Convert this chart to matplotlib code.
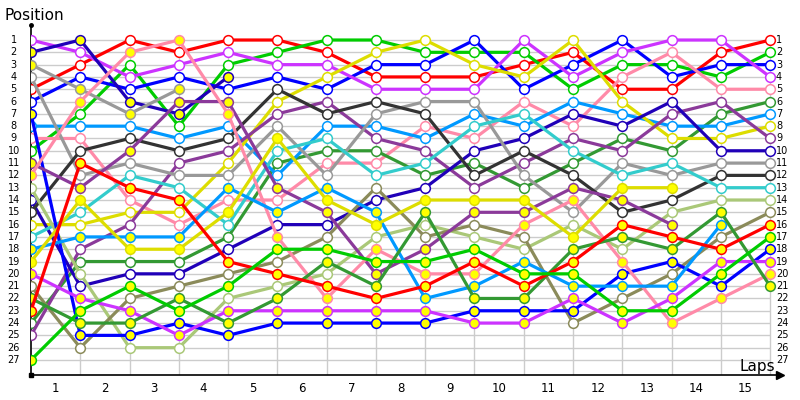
"""Grafico de vueltas: posicion de cada piloto en la salida y en cada vuelta."""

import matplotlib

matplotlib.use("Agg")
import matplotlib.pyplot as plt

LAP_LABELS = [str(i) for i in range(1, 16)]
POSITIONS = list(range(1, 28))

# columna 0 = salida, columnas 1..15 = final de cada vuelta
# pilotos con marcador hueco
red = [5, 3, 1, 2, 1, 1, 2, 4, 4, 4, 3, 2, 5, 5, 2, 1]
green = [10, 7, 3, 8, 3, 2, 1, 1, 2, 2, 2, 5, 3, 3, 4, 2]
blue = [6, 4, 5, 4, 5, 4, 5, 3, 3, 1, 5, 3, 1, 4, 3, 3]
violet = [1, 2, 4, 3, 2, 3, 3, 5, 5, 5, 1, 4, 2, 1, 1, 4]
pink = [9, 9, 14, 16, 14, 14, 11, 11, 8, 9, 6, 8, 4, 2, 5, 5]
dark_green = [24, 19, 19, 19, 17, 11, 10, 10, 12, 11, 13, 11, 9, 10, 7, 6]
light_blue = [8, 8, 8, 9, 8, 12, 8, 8, 9, 7, 8, 6, 7, 8, 8, 7]
yellow = [16, 16, 15, 15, 11, 6, 4, 2, 1, 3, 4, 1, 6, 9, 9, 8]
purple = [25, 18, 16, 11, 10, 7, 6, 9, 10, 13, 11, 9, 10, 7, 6, 9]
navy = [14, 21, 20, 20, 18, 16, 16, 14, 13, 10, 9, 7, 8, 6, 10, 10]
gray = [4, 12, 11, 12, 12, 8, 12, 7, 6, 6, 12, 15, 11, 12, 11, 11]
dark_gray = [15, 10, 9, 10, 9, 5, 7, 6, 7, 12, 10, 12, 15, 14, 12, 12]
cyan = [17, 15, 12, 13, 16, 10, 9, 12, 11, 8, 7, 10, 12, 11, 13, 13]
light_olive = [13, 20, 26, 26, 22, 21, 20, 17, 16, 17, 18, 16, 18, 15, 14, 14]
olive = [21, 26, 22, 21, 20, 19, 17, 13, 17, 16, 17, 24, 22, 20, 17, 15]

# pilotos con marcador amarillo (algunos abandonan antes de la vuelta 15)
navy_y = [2, 1, 6, 7, 4]
gray_y = [3, 5, 7, 5]
blue_y = [7, 25, 25, 24, 25, 24, 24, 24, 24, 23, 23, 23, 20, 19, 21, 18]
purple_y = [11, 13, 10, 6, 6, 13, 15, 20, 18, 15, 15, 13, 14, 16]
pink_y = [12, 6, 2, 1, 7, 17, 22, 18, 20, 20, 16, 14, 19, 24, 22, 20]
light_blue_y = [18, 17, 17, 17, 13, 15, 13, 15, 22, 21, 19, 21, 21, 21, 16]
yellow_y = [19, 14, 18, 18, 15, 9, 14, 16, 14, 14, 14, 17, 13, 13]
violet_y = [20, 22, 23, 25, 23, 23, 23, 23, 23, 24, 24, 22, 24, 22, 19, 19]
dark_green_y = [22, 24, 24, 22, 24, 22, 19, 21, 15, 22, 22, 18, 17, 18, 15, 21]
red_y = [23, 11, 13, 14, 19, 20, 21, 22, 21, 19, 21, 19, 16, 17, 18, 16]
green_y = [27, 23, 21, 23, 21, 18, 18, 19, 19, 18, 20, 20, 23, 23, 20, 17]

COLORS = {
    "red": "#ff0000",
    "green": "#00cc00",
    "blue": "#0000ff",
    "violet": "#cc33ff",
    "pink": "#ff8aa8",
    "dark_green": "#339933",
    "light_blue": "#0099ff",
    "yellow": "#dddd00",
    "purple": "#8b3a9a",
    "navy": "#2000b8",
    "gray": "#999999",
    "dark_gray": "#333333",
    "cyan": "#33cccc",
    "light_olive": "#aac878",
    "olive": "#8b8b5a",
}

drivers = [
    ("red", red, False), ("green", green, False), ("blue", blue, False),
    ("violet", violet, False), ("pink", pink, False), ("dark_green", dark_green, False),
    ("light_blue", light_blue, False), ("yellow", yellow, False), ("purple", purple, False),
    ("navy", navy, False), ("gray", gray, False), ("dark_gray", dark_gray, False),
    ("cyan", cyan, False), ("light_olive", light_olive, False), ("olive", olive, False),
    ("navy", navy_y, True), ("gray", gray_y, True), ("blue", blue_y, True),
    ("purple", purple_y, True), ("pink", pink_y, True), ("light_blue", light_blue_y, True),
    ("yellow", yellow_y, True), ("violet", violet_y, True), ("dark_green", dark_green_y, True),
    ("red", red_y, True), ("green", green_y, True),
]

X_MAX = 15.2
Y_TOP, Y_BOTTOM = -0.22, 28.22

fig = plt.figure(figsize=(8, 4), dpi=100)
ax = fig.add_axes([31 / 800, 25 / 400, 749 / 800, 350 / 400])
ax.set_xlim(0, X_MAX)
ax.set_ylim(Y_BOTTOM, Y_TOP)

# rejilla
n_cols = len(LAP_LABELS) + 1
ax.hlines(POSITIONS, 0, n_cols - 1, color="#cccccc", lw=1, zorder=0)
ax.vlines(range(1, n_cols), 1, Y_BOTTOM, color="#cccccc", lw=1, zorder=0)

for color_name, positions, filled in drivers:
    color = COLORS[color_name]
    ax.plot(
        range(len(positions)), positions, color=color, lw=2.3,
        marker="o", markersize=7, markeredgewidth=1.1, markeredgecolor=color,
        markerfacecolor="#ffff00" if filled else "white", zorder=3,
    )

# etiquetas de posicion a ambos lados
for p in POSITIONS:
    ax.text(-0.35, p, str(p), ha="center", va="center", fontsize=7, clip_on=False)
    ax.text(15.12, p, str(p), ha="left", va="center", fontsize=7, clip_on=False)

for i, lab in enumerate(LAP_LABELS):
    ax.text(i + 0.5, 29.3, lab, ha="center", va="center", fontsize=8.5, clip_on=False)

ax.set_xticks([])
ax.set_yticks([])
for side in ("top", "right"):
    ax.spines[side].set_visible(False)
for side in ("left", "bottom"):
    ax.spines[side].set_color("black")
    ax.spines[side].set_linewidth(1.2)

ax.plot(1, 0, ">k", markersize=6, transform=ax.transAxes, clip_on=False)
ax.plot(0, 1, "ok", markersize=2.5, transform=ax.transAxes, clip_on=False)
ax.plot(0, 0, "sk", markersize=2.5, transform=ax.transAxes, clip_on=False)

fig.text(5 / 800, 1 - 15 / 400, "Position", fontsize=11, ha="left", va="center")
fig.text(775 / 800, 1 - 366 / 400, "Laps", fontsize=11, ha="right", va="center")

fig.savefig("out.png", dpi=100)
plt.close(fig)
